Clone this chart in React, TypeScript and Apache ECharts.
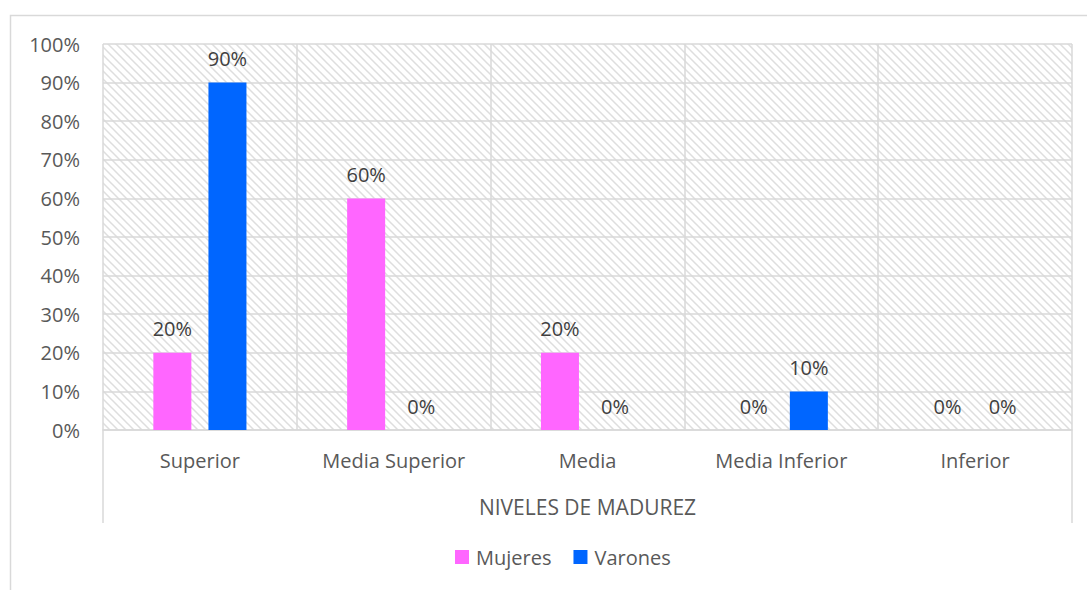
import React, { useEffect, useRef } from "react";
import * as echarts from "echarts";

const categories = ["Superior", "Media Superior", "Media", "Media Inferior", "Inferior"];
const mujeres = [20, 60, 20, 0, 0];
const varones = [90, 0, 0, 10, 0];
const seriesNames = ["Mujeres", "Varones"];

function makeHatch(): HTMLCanvasElement {
  const c = document.createElement("canvas");
  c.width = 8;
  c.height = 8;
  const ctx = c.getContext("2d")!;
  ctx.fillStyle = "#ffffff";
  ctx.fillRect(0, 0, 8, 8);
  ctx.strokeStyle = "#dedede";
  ctx.lineWidth = 1.5;
  ctx.beginPath();
  ctx.moveTo(-2, -2);
  ctx.lineTo(10, 10);
  ctx.moveTo(-2, 6);
  ctx.lineTo(2, 10);
  ctx.moveTo(6, -2);
  ctx.lineTo(10, 2);
  ctx.stroke();
  return c;
}

export default function App() {
  const ref = useRef<HTMLDivElement>(null);
  useEffect(() => {
    if (!ref.current) return;
    const chart = echarts.init(ref.current, null, { renderer: "svg" });
    const font = "'Open Sans', sans-serif";
    const textColor = "#595959";
    const gridLeft = 103, gridTop = 44, gridRight = 15, gridBottom = 160;
    const W = 1087, H = 590;
    const hatch = makeHatch();
    const label = {
      show: true,
      position: "top" as const,
      distance: 14,
      formatter: "{c}%",
      color: "#404040",
      fontFamily: font,
      fontSize: 20,
    };
    chart.setOption({
      animation: false,
      backgroundColor: "#ffffff",
      textStyle: { fontFamily: font },
      grid: {
        left: gridLeft,
        top: gridTop,
        right: gridRight,
        bottom: gridBottom,
        show: true,
        borderWidth: 0,
        backgroundColor: { image: hatch, repeat: "repeat", imageWidth: 8, imageHeight: 8 } as any,
      },
      graphic: [
        {
          type: "rect",
          z: -10,
          silent: true,
          shape: { x: 10.5, y: 15.5, width: 1200, height: 700 },
          style: { fill: "none", stroke: "#d9d9d9", lineWidth: 1.5 },
        },
        {
          type: "line",
          silent: true,
          shape: { x1: gridLeft, y1: H - gridBottom, x2: gridLeft, y2: 523 },
          style: { stroke: "#d9d9d9", lineWidth: 1.5 },
        },
        {
          type: "line",
          silent: true,
          shape: { x1: W - gridRight, y1: H - gridBottom, x2: W - gridRight, y2: 523 },
          style: { stroke: "#d9d9d9", lineWidth: 1.5 },
        },
      ],
      legend: {
        data: seriesNames,
        bottom: 18,
        left: 450,
        itemWidth: 14,
        itemHeight: 14,
        itemGap: 22,
        icon: "rect",
        textStyle: { color: textColor, fontSize: 20, fontFamily: font, padding: [0, 0, 0, 2] },
      },
      xAxis: {
        type: "category",
        data: categories,
        name: "NIVELES DE MADUREZ",
        nameLocation: "middle",
        nameGap: 66,
        nameTextStyle: { color: textColor, fontSize: 21, fontFamily: font },
        axisLine: { show: true, lineStyle: { color: "#d9d9d9", width: 1.5 } },
        axisTick: { show: false },
        splitLine: { show: true, lineStyle: { color: "#d9d9d9", width: 1.5 } },
        axisLabel: { color: textColor, fontSize: 20, fontFamily: font, margin: 20 },
      },
      yAxis: {
        type: "value",
        min: 0,
        max: 100,
        interval: 10,
        axisLine: { show: false },
        axisTick: { show: false },
        splitLine: { show: true, lineStyle: { color: "#d9d9d9", width: 1.5 } },
        axisLabel: { formatter: "{value}%", color: textColor, fontSize: 20, fontFamily: font, margin: 23 },
      },
      series: [
        {
          name: seriesNames[0],
          type: "bar",
          data: mujeres,
          barWidth: 38,
          barGap: "45%",
          itemStyle: { color: "#ff66ff" },
          label,
        },
        {
          name: seriesNames[1],
          type: "bar",
          data: varones,
          barWidth: 38,
          barGap: "45%",
          itemStyle: { color: "#0066ff" },
          label,
        },
      ],
    });
    return () => chart.dispose();
  }, []);
  return (
    <div
      ref={ref}
      style={{ position: "absolute", left: 0, top: 0, width: 1087, height: 590 }}
    />
  );
}
